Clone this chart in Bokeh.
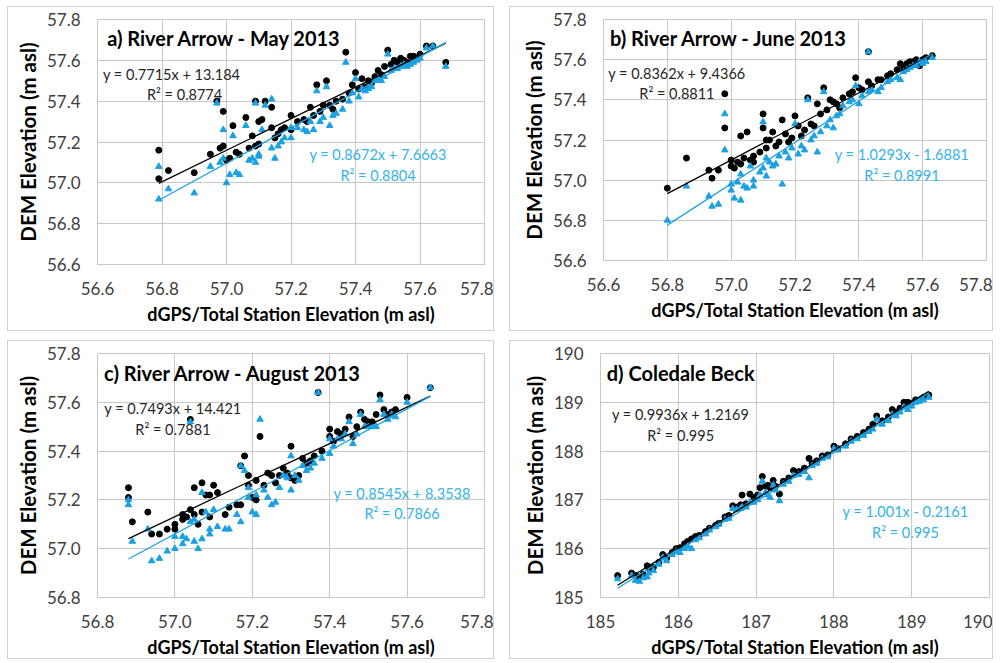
from bokeh.plotting import figure
from bokeh.models import Range1d, FixedTicker, NumeralTickFormatter, Label
from bokeh.layouts import row, column
from bokeh.embed import file_html
from bokeh.resources import INLINE

# ---------------- data ----------------
# a) River Arrow - May 2013
A_X = [56.79, 56.79, 56.82, 56.90, 56.95, 56.97, 56.98, 56.99, 56.99, 57.00, 57.01, 57.02, 57.03,
       57.04, 57.06, 57.07, 57.08, 57.09, 57.09, 57.10, 57.10, 57.11, 57.12, 57.14, 57.14, 57.15,
       57.16, 57.17, 57.18, 57.20, 57.20, 57.22, 57.24, 57.25, 57.26, 57.27, 57.28, 57.29, 57.30,
       57.31, 57.32, 57.33, 57.34, 57.36, 57.37, 57.38, 57.39, 57.40, 57.41, 57.42, 57.43, 57.44,
       57.45, 57.46, 57.47, 57.48, 57.49, 57.50, 57.51, 57.52, 57.53, 57.54, 57.55, 57.56, 57.57,
       57.58, 57.59, 57.60, 57.62, 57.64, 57.68]
A_BLACK = [57.02, 57.16, 57.06, 57.05, 57.14, 57.40, 57.17, 57.35, 57.18, 57.11, 57.12, 57.28, 57.15,
           57.14, 57.32, 57.17, 57.23, 57.40, 57.18, 57.30, 57.19, 57.31, 57.40, 57.37, 57.27, 57.22,
           57.24, 57.26, 57.27, 57.33, 57.26, 57.30, 57.31, 57.30, 57.37, 57.33, 57.48, 57.35, 57.38,
           57.50, 57.38, 57.36, 57.40, 57.41, 57.64, 57.44, 57.48, 57.54, 57.46, 57.51, 57.47, 57.50,
           57.49, 57.52, 57.55, 57.53, 57.57, 57.65, 57.58, 57.60, 57.59, 57.61, 57.60, 57.59, 57.62,
           57.62, 57.61, 57.63, 57.67, 57.67, 57.59]
A_BLUE = [57.08, 56.92, 56.97, 56.95, 57.08, 57.39, 57.10, 57.26, 57.12, 57.00, 57.04, 57.23, 57.05,
          57.04, 57.28, 57.11, 57.12, 57.39, 57.10, 57.14, 57.13, 57.26, 57.38, 57.41, 57.17, 57.12,
          57.18, 57.20, 57.22, 57.27, 57.22, 57.27, 57.26, 57.25, 57.30, 57.26, 57.45, 57.30, 57.32,
          57.47, 57.28, 57.33, 57.34, 57.36, 57.59, 57.40, 57.44, 57.51, 57.42, 57.46, 57.45, 57.46,
          57.47, 57.50, 57.51, 57.50, 57.52, 57.63, 57.55, 57.56, 57.56, 57.57, 57.58, 57.57, 57.58,
          57.59, 57.60, 57.61, 57.66, 57.67, 57.57]
A_FIT = {"black": (0.7715, 13.184), "blue": (0.8672, 7.6663)}

# b) River Arrow - June 2013
B_X = [56.80, 56.86, 56.93, 56.94, 56.96, 56.98, 56.98, 57.00, 57.00, 57.01, 57.02, 57.03, 57.03,
       57.04, 57.05, 57.06, 57.07, 57.07, 57.09, 57.10, 57.10, 57.11, 57.11, 57.12, 57.13, 57.14,
       57.15, 57.16, 57.17, 57.18, 57.19, 57.20, 57.21, 57.22, 57.23, 57.24, 57.25, 57.26, 57.27,
       57.28, 57.29, 57.30, 57.31, 57.32, 57.33, 57.34, 57.35, 57.37, 57.38, 57.39, 57.40, 57.41,
       57.43, 57.43, 57.44, 57.46, 57.47, 57.49, 57.50, 57.52, 57.53, 57.54, 57.55, 57.56, 57.57,
       57.58, 57.59, 57.60, 57.61, 57.63]
B_BLACK = [56.96, 57.11, 57.05, 57.01, 57.05, 57.43, 57.26, 57.10, 57.07, 57.06, 57.09, 57.22, 57.08,
           57.11, 57.24, 57.10, 57.09, 57.12, 57.14, 57.33, 57.26, 57.20, 57.16, 57.20, 57.24, 57.17,
           57.19, 57.30, 57.23, 57.19, 57.21, 57.32, 57.27, 57.22, 57.25, 57.41, 57.28, 57.27, 57.38,
           57.33, 57.46, 57.35, 57.40, 57.39, 57.38, 57.36, 57.41, 57.43, 57.44, 57.51, 57.46, 57.45,
           57.64, 57.49, 57.47, 57.50, 57.50, 57.52, 57.53, 57.55, 57.58, 57.56, 57.58, 57.59, 57.59,
           57.60, 57.57, 57.60, 57.61, 57.62]
B_BLUE = [56.80, 56.97, 56.92, 56.87, 56.88, 57.33, 57.15, 56.98, 56.95, 56.91, 56.99, 57.03, 56.90,
          56.97, 56.96, 57.07, 56.97, 57.00, 57.04, 57.29, 57.06, 57.02, 57.11, 57.09, 57.07, 57.08,
          57.12, 56.98, 57.14, 57.11, 57.16, 57.28, 57.13, 57.17, 57.15, 57.40, 57.20, 57.22, 57.14,
          57.24, 57.44, 57.27, 57.30, 57.26, 57.32, 57.33, 57.37, 57.39, 57.40, 57.47, 57.38, 57.42,
          57.64, 57.44, 57.45, 57.44, 57.46, 57.49, 57.50, 57.51, 57.50, 57.54, 57.55, 57.56, 57.57,
          57.57, 57.59, 57.58, 57.59, 57.61]
B_FIT = {"black": (0.8362, 9.4366), "blue": (1.0293, -1.6881)}

# c) River Arrow - August 2013
C_X = [56.88, 56.88, 56.89, 56.93, 56.94, 56.96, 56.98, 57.00, 57.00, 57.02, 57.02, 57.03, 57.04,
       57.04, 57.05, 57.05, 57.06, 57.07, 57.07, 57.08, 57.09, 57.09, 57.10, 57.11, 57.13, 57.14,
       57.16, 57.17, 57.17, 57.18, 57.19, 57.19, 57.20, 57.21, 57.21, 57.22, 57.23, 57.24, 57.25,
       57.26, 57.27, 57.28, 57.29, 57.30, 57.30, 57.31, 57.32, 57.33, 57.34, 57.35, 57.36, 57.37,
       57.38, 57.40, 57.40, 57.41, 57.42, 57.43, 57.44, 57.45, 57.46, 57.47, 57.48, 57.49, 57.50,
       57.51, 57.52, 57.53, 57.54, 57.55, 57.56, 57.57, 57.60, 57.66]
C_BLACK = [57.25, 57.21, 57.11, 57.15, 57.06, 57.06, 57.08, 57.10, 57.08, 57.12, 57.14, 57.13, 57.16,
           57.53, 57.25, 57.14, 57.10, 57.27, 57.15, 57.22, 57.22, 57.13, 57.26, 57.23, 57.14, 57.17,
           57.18, 57.34, 57.18, 57.38, 57.30, 57.26, 57.21, 57.28, 57.20, 57.46, 57.26, 57.31, 57.30,
           57.27, 57.30, 57.33, 57.31, 57.42, 57.29, 57.28, 57.30, 57.37, 57.35, 57.36, 57.38, 57.64,
           57.40, 57.49, 57.46, 57.44, 57.48, 57.47, 57.49, 57.54, 57.46, 57.50, 57.56, 57.53, 57.52,
           57.52, 57.55, 57.63, 57.57, 57.55, 57.56, 57.57, 57.62, 57.66]
C_BLUE = [57.20, 57.18, 57.03, 57.08, 56.95, 56.96, 56.99, 57.05, 57.00, 57.02, 57.05, 57.04, 57.11,
          57.52, 57.03, 57.12, 57.00, 57.23, 57.04, 57.15, 57.06, 57.08, 57.16, 57.09, 57.08, 57.08,
          57.14, 57.34, 57.11, 57.32, 57.25, 57.21, 57.15, 57.22, 57.14, 57.53, 57.24, 57.21, 57.18,
          57.19, 57.25, 57.30, 57.29, 57.38, 57.24, 57.30, 57.28, 57.34, 57.32, 57.33, 57.35, 57.64,
          57.37, 57.45, 57.39, 57.42, 57.45, 57.45, 57.47, 57.52, 57.43, 57.47, 57.55, 57.50, 57.50,
          57.50, 57.50, 57.61, 57.55, 57.53, 57.55, 57.54, 57.60, 57.66]
C_FIT = {"black": (0.7493, 14.421), "blue": (0.8545, 8.3538)}

# d) Coledale Beck
D_X = [185.22, 185.40, 185.45, 185.50, 185.55, 185.60, 185.62, 185.68, 185.75, 185.80, 185.85,
       185.92, 185.97, 186.02, 186.08, 186.12, 186.17, 186.22, 186.27, 186.35, 186.40, 186.48,
       186.52, 186.60, 186.65, 186.70, 186.75, 186.80, 186.82, 186.87, 186.92, 186.97, 187.02,
       187.05, 187.08, 187.12, 187.15, 187.18, 187.22, 187.25, 187.30, 187.35, 187.42, 187.48,
       187.55, 187.62, 187.68, 187.72, 187.78, 187.85, 187.92, 188.00, 188.05, 188.15, 188.22,
       188.30, 188.38, 188.45, 188.50, 188.55, 188.62, 188.70, 188.75, 188.80, 188.85, 188.90,
       188.95, 189.00, 189.05, 189.10, 189.15, 189.22]
D_BLACK = [185.45, 185.50, 185.45, 185.42, 185.48, 185.65, 185.60, 185.62, 185.72, 185.88, 185.80,
           185.92, 186.00, 186.02, 186.10, 186.15, 186.20, 186.25, 186.27, 186.35, 186.42, 186.48,
           186.52, 186.65, 186.68, 186.88, 186.85, 186.90, 187.10, 186.92, 187.12, 187.05, 187.10,
           187.25, 187.48, 187.28, 187.30, 187.25, 187.40, 187.28, 187.12, 187.38, 187.45, 187.60,
           187.58, 187.65, 187.85, 187.75, 187.80, 187.90, 187.92, 188.10, 188.05, 188.15, 188.25,
           188.30, 188.38, 188.45, 188.55, 188.72, 188.62, 188.70, 188.85, 188.80, 188.88, 189.00,
           189.00, 188.98, 189.05, 189.05, 189.10, 189.15]
D_BLUE = [185.38, 185.45, 185.35, 185.33, 185.40, 185.42, 185.50, 185.55, 185.68, 185.82, 185.75,
          185.88, 185.95, 185.92, 186.00, 186.05, 186.00, 186.18, 186.22, 186.30, 186.38, 186.45,
          186.50, 186.60, 186.62, 186.82, 186.80, 186.82, 186.85, 186.85, 186.95, 186.95, 187.00,
          187.10, 187.38, 187.15, 187.10, 187.05, 187.30, 187.20, 186.98, 187.32, 187.38, 187.50,
          187.52, 187.58, 187.45, 187.70, 187.75, 187.85, 187.88, 188.05, 188.02, 188.10, 188.20,
          188.25, 188.32, 188.40, 188.45, 188.65, 188.55, 188.62, 188.75, 188.72, 188.80, 188.90,
          188.85, 188.92, 189.00, 189.02, 189.05, 189.10]
D_FIT = {"black": (0.9936, 1.2169), "blue": (1.001, -0.2161)}

TICKS_A = [56.6, 56.8, 57.0, 57.2, 57.4, 57.6, 57.8]
TICKS_C = [56.8, 57.0, 57.2, 57.4, 57.6, 57.8]
TICKS_D = [185, 186, 187, 188, 189, 190]

TITLES = ["a) River Arrow - May 2013", "b) River Arrow - June 2013",
          "c) River Arrow - August 2013", "d) Coledale Beck"]
EQ_BLACK = ["y = 0.7715x + 13.184", "y = 0.8362x + 9.4366", "y = 0.7493x + 14.421", "y = 0.9936x + 1.2169"]
R2_BLACK = ["R\u00b2 = 0.8774", "R\u00b2 = 0.8811", "R\u00b2 = 0.7881", "R\u00b2 = 0.995"]
EQ_BLUE = ["y = 0.8672x + 7.6663", "y = 1.0293x - 1.6881", "y = 0.8545x + 8.3538", "y = 1.001x - 0.2161"]
R2_BLUE = ["R\u00b2 = 0.8804", "R\u00b2 = 0.8991", "R\u00b2 = 0.7866", "R\u00b2 = 0.995"]

X_TITLE = "dGPS/Total Station Elevation (m asl)"
Y_TITLE = "DEM Elevation (m asl)"

# ---------------- style ----------------
FONT = "Lato"
BLACK = "#000000"
BLUE = "#1ba1e2"
BLUE_TXT = "#33b3e6"
GRID = "#c8c8c8"
BORDER = "#d0d0d0"


def make_panel(xs, yb, yc, fit, xr, yr, xticks, yticks, fmt, title, eqb, r2b, equ, r2u,
               pos, fw, fh, borders):
    left, right, top, bottom = borders
    p = figure(frame_width=fw, frame_height=fh, output_backend="svg", toolbar_location=None,
               x_range=Range1d(*xr), y_range=Range1d(*yr),
               min_border_left=left, min_border_right=right,
               min_border_top=top, min_border_bottom=bottom)
    p.styles = {"border": "1px solid " + BORDER}
    p.background_fill_color = "white"
    p.border_fill_color = "white"
    p.outline_line_color = GRID
    p.outline_line_width = 1
    for g in (p.xgrid, p.ygrid):
        g.grid_line_color = GRID
        g.grid_line_width = 1
    p.xgrid.ticker = FixedTicker(ticks=xticks)
    p.ygrid.ticker = FixedTicker(ticks=yticks)
    p.xaxis.ticker = FixedTicker(ticks=xticks)
    p.yaxis.ticker = FixedTicker(ticks=yticks)
    p.xaxis.formatter = NumeralTickFormatter(format=fmt)
    p.yaxis.formatter = NumeralTickFormatter(format=fmt)
    for ax in (p.xaxis, p.yaxis):
        ax.axis_line_color = GRID
        ax.major_tick_line_color = None
        ax.minor_tick_line_color = None
        ax.major_tick_out = 0
        ax.major_tick_in = 0
        ax.major_label_text_font = FONT
        ax.major_label_text_font_size = "17px"
        ax.major_label_text_color = "#404040"
        ax.axis_label_text_font = FONT
        ax.axis_label_text_font_style = "bold"
        ax.axis_label_text_color = "#000000"
    p.xaxis.axis_label_text_font_size = "18px"
    p.yaxis.axis_label_text_font_size = "20.5px"
    p.xaxis.axis_label = X_TITLE
    p.yaxis.axis_label = Y_TITLE
    p.xaxis.major_label_standoff = 17
    p.yaxis.major_label_standoff = 17
    p.xaxis.axis_label_standoff = 5
    p.yaxis.axis_label_standoff = 4

    p.scatter(xs, yb, marker="circle", size=6, fill_color=BLACK, line_color=BLACK)
    p.scatter(xs, yc, marker="triangle", size=6.5, fill_color=BLUE, line_color=BLUE)

    x0, x1 = min(xs), max(xs)
    mb, cb = fit["black"]
    mu, cu = fit["blue"]
    p.line([x0, x1], [mb * x0 + cb, mb * x1 + cb], line_color=BLACK, line_width=1.3)
    p.line([x0, x1], [mu * x0 + cu, mu * x1 + cu], line_color=BLUE, line_width=1.3)

    (tx, ty), (ebx, eby), (rbx, rby), (eux, euy), (rux, ruy) = pos
    p.add_layout(Label(x=tx, y=ty, text=title, text_font=FONT, text_font_style="bold",
                       text_font_size="20px", text_color="#000000",
                       text_align="left", text_baseline="middle"))
    for (x, y, t, c) in ((ebx, eby, eqb, "#262626"), (rbx, rby, r2b, "#262626"),
                         (eux, euy, equ, BLUE_TXT), (rux, ruy, r2u, BLUE_TXT)):
        p.add_layout(Label(x=x, y=y, text=t, text_font=FONT, text_font_size="14.5px",
                           text_color=c, text_align="center", text_baseline="middle"))
    return p


pa = make_panel(A_X, A_BLACK, A_BLUE, A_FIT, (56.6, 57.8), (56.6, 57.8), TICKS_A, TICKS_A, "0.0",
                TITLES[0], EQ_BLACK[0], R2_BLACK[0], EQ_BLUE[0], R2_BLUE[0],
                [(56.63, 57.71), (56.83, 57.53), (56.87, 57.435), (57.47, 57.14), (57.47, 57.035)],
                385, 243, (89, 11, 12, 68))
pb = make_panel(B_X, B_BLACK, B_BLUE, B_FIT, (56.6, 57.8), (56.6, 57.8), TICKS_A, TICKS_A, "0.0",
                TITLES[1], EQ_BLACK[1], R2_BLACK[1], EQ_BLUE[1], R2_BLUE[1],
                [(56.62, 57.71), (56.83, 57.53), (56.83, 57.43), (57.535, 57.13), (57.535, 57.025)],
                381, 239, (93, 8, 11, 73))
pc = make_panel(C_X, C_BLACK, C_BLUE, C_FIT, (56.8, 57.8), (56.8, 57.8), TICKS_C, TICKS_C, "0.0",
                TITLES[2], EQ_BLACK[2], R2_BLACK[2], EQ_BLUE[2], R2_BLUE[2],
                [(56.817, 57.72), (56.995, 57.573), (56.995, 57.49), (57.587, 57.226), (57.587, 57.143)],
                385, 242, (89, 11, 12, 60))
pd = make_panel(D_X, D_BLACK, D_BLUE, D_FIT, (185, 190), (185, 190), TICKS_D, TICKS_D, "0",
                TITLES[3], EQ_BLACK[3], R2_BLACK[3], EQ_BLUE[3], R2_BLUE[3],
                [(185.08, 189.6), (186.03, 188.74), (186.03, 188.31), (188.92, 186.76), (188.92, 186.34)],
                387, 242, (90, 5, 12, 60))

layout = column(row(pa, pb, spacing=15), row(pc, pd, spacing=15), spacing=9, margin=(6, 0, 0, 7))

open("out.html", "w").write(file_html(layout, INLINE))
